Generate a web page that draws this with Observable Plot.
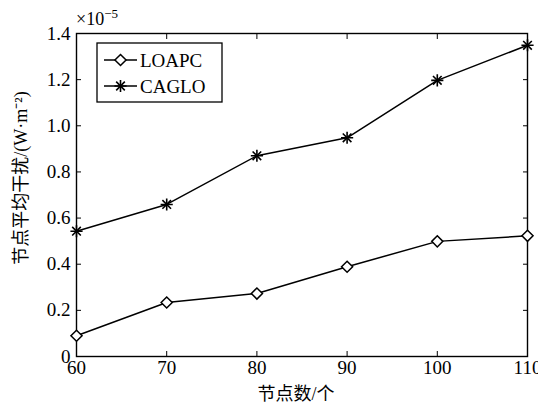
<!DOCTYPE html>
<html><head><meta charset="utf-8">
<script src="https://cdn.jsdelivr.net/npm/d3@7"></script>
<script src="https://cdn.jsdelivr.net/npm/@observablehq/plot@0.6"></script>
<style>body{margin:0;background:#fff}</style>
</head><body><div id="chart"></div>
<script>
const nodes = [60, 70, 80, 90, 100, 110];
const loapc = [0.09, 0.234, 0.273, 0.389, 0.499, 0.523];
const caglo = [0.543, 0.659, 0.870, 0.948, 1.197, 1.349];
const xTicks = [60, 70, 80, 90, 100, 110];
const yTicks = [0, 0.2, 0.4, 0.6, 0.8, 1.0, 1.2, 1.4];
const seriesNames = ["LOAPC", "CAGLO"];
const xLabel = "节点数/个";
const yLabel = "节点平均干扰/(W·m⁻²)";

const rows = [
  ...nodes.map((n, i) => ({n, v: loapc[i], s: seriesNames[0]})),
  ...nodes.map((n, i) => ({n, v: caglo[i], s: seriesNames[1]}))
];
const A = rows.filter(d => d.s === seriesNames[0]);
const B = rows.filter(d => d.s === seriesNames[1]);
const serif = "'Liberation Serif','Times New Roman',serif";
const mixed = "'Liberation Serif','Noto Sans CJK SC',serif";
const fmtY = d => d === 0 ? "0" : d.toFixed(1);

const svg = Plot.plot({
  width: 538, height: 406,
  marginLeft: 76, marginRight: 11, marginTop: 33, marginBottom: 50,
  style: {fontFamily: serif, fontSize: "19px", color: "#000", background: "#fff", overflow: "visible"},
  x: {domain: [60, 110]},
  y: {domain: [0, 1.4]},
  marks: [
    Plot.frame({stroke: "#000", strokeWidth: 1.4}),
    Plot.axisX({ticks: xTicks, tickSize: -5, tickPadding: 9, label: null, fontSize: 19}),
    Plot.axisX({anchor: "top", ticks: xTicks, tickSize: -5, tickFormat: () => "", label: null}),
    Plot.axisY({ticks: yTicks, tickSize: -5, tickPadding: 11, tickFormat: fmtY, label: null, fontSize: 19}),
    Plot.axisY({anchor: "right", ticks: yTicks, tickSize: -5, tickFormat: () => "", label: null}),
    Plot.line(A, {x: "n", y: "v", stroke: "#000", strokeWidth: 1.5}),
    Plot.line(B, {x: "n", y: "v", stroke: "#000", strokeWidth: 1.5}),
    Plot.dot(A, {x: "n", y: "v", symbol: "diamond2", r: 5, fill: "#fff", stroke: "#000", strokeWidth: 1.5}),
    Plot.dot(B, {x: "n", y: "v", symbol: "plus", r: 4, stroke: "#000", strokeWidth: 1.6}),
    Plot.dot(B, {x: "n", y: "v", symbol: "times", r: 4, stroke: "#000", strokeWidth: 1.6})
  ]
});
document.getElementById("chart").appendChild(svg);

const s = d3.select(svg);
// axis labels
s.append("text").attr("x", 296).attr("y", 400).attr("text-anchor", "middle")
  .attr("font-family", mixed).attr("font-size", 18).text(xLabel);
s.append("text").attr("transform", "translate(27,178) rotate(-90)").attr("text-anchor", "middle")
  .attr("font-family", mixed).attr("font-size", 18).text(yLabel);
// exponent
const ex = s.append("text").attr("x", 76).attr("y", 25).attr("text-anchor", "start")
  .attr("font-family", serif).attr("font-size", 18);
ex.append("tspan").text("×10");
ex.append("tspan").attr("dy", -7).attr("font-size", 13).text("−5");

// legend
const lg = s.append("g");
lg.append("rect").attr("x", 97).attr("y", 43).attr("width", 125).attr("height", 59)
  .attr("fill", "#fff").attr("stroke", "#000").attr("stroke-width", 1.3);
const symD = d3.symbol(d3.symbolDiamond2, Math.PI * 25)();
const symP = d3.symbol(d3.symbolPlus, Math.PI * 16)();
const symT = d3.symbol(d3.symbolTimes, Math.PI * 16)();
[60, 86].forEach((yy, i) => {
  lg.append("line").attr("x1", 104).attr("x2", 137).attr("y1", yy).attr("y2", yy)
    .attr("stroke", "#000").attr("stroke-width", 1.5);
  if (i === 0) {
    lg.append("path").attr("d", symD).attr("transform", `translate(120.5,${yy})`)
      .attr("fill", "#fff").attr("stroke", "#000").attr("stroke-width", 1.5);
  } else {
    [symP, symT].forEach(p => lg.append("path").attr("d", p).attr("transform", `translate(120.5,${yy})`)
      .attr("fill", "none").attr("stroke", "#000").attr("stroke-width", 1.6));
  }
  lg.append("text").attr("x", 140).attr("y", yy + 6.5).attr("text-anchor", "start")
    .attr("font-family", serif).attr("font-size", 19).text(seriesNames[i]);
});
</script>
</body></html>
